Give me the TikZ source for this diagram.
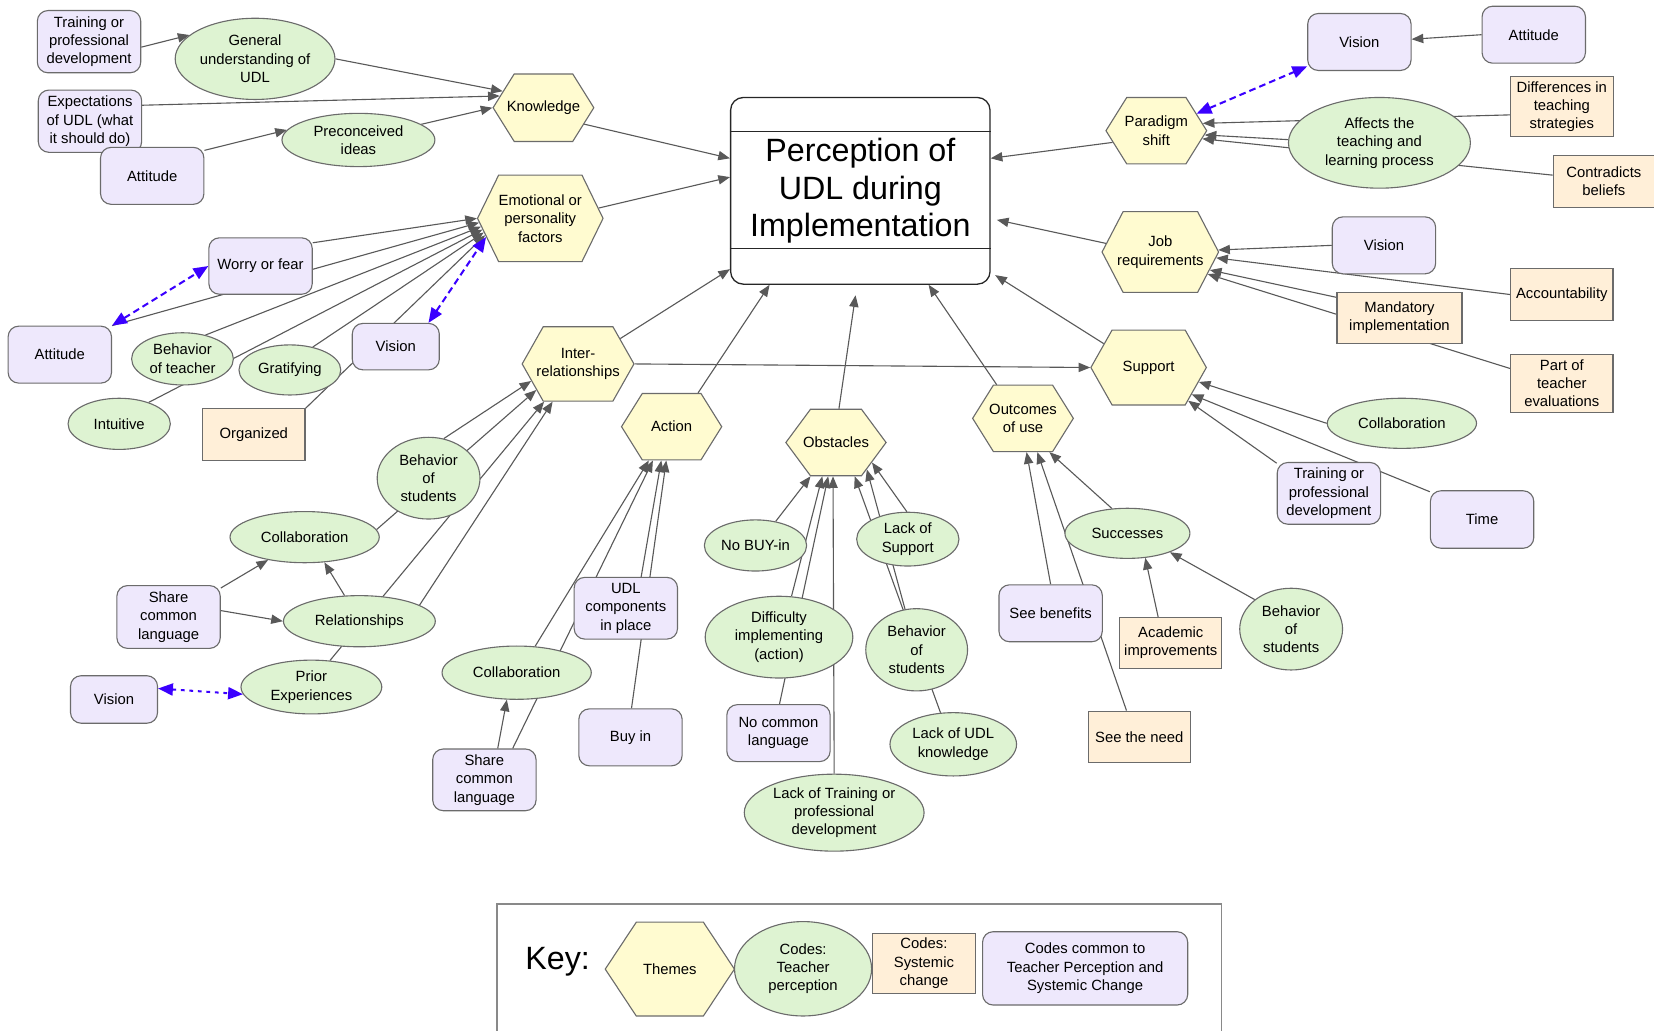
\documentclass[tikz,border=0pt]{standalone}
\usepackage{fontspec}
\setmainfont{Liberation Sans}
\usepackage{tikz}
\usetikzlibrary{shapes.geometric, shapes.symbols, arrows.meta, backgrounds}
\definecolor{themefill}{HTML}{FFFBD0}
\definecolor{teacherfill}{HTML}{DEF3D2}
\definecolor{systemfill}{HTML}{FFEFD8}
\definecolor{commonfill}{HTML}{EEE8FC}
\definecolor{outline}{HTML}{6B6B6B}
\definecolor{linkgray}{HTML}{595959}
\definecolor{linkblue}{HTML}{3A00FF}

\begin{document}
\begin{tikzpicture}[x=0.02cm, y=-0.02cm,
    every node/.style={font=\fontsize{8}{9.9}\selectfont, align=center},
    theme/.style={signal, signal to=east and west, signal pointer angle=#1, draw=outline, fill=themefill, line width=0.6pt, inner xsep=-0.6cm, inner ysep=1pt},
    theme/.default=116,
    teacher/.style={ellipse, draw=outline, fill=teacherfill, line width=0.6pt, inner sep=0pt, minimum width=1.94cm, minimum height=0.97cm},
    system/.style={rectangle, draw=outline, fill=systemfill, line width=0.6pt, inner sep=1pt, minimum width=1.94cm, minimum height=0.97cm},
    common/.style={rectangle, rounded corners=0.2cm, draw=outline, fill=commonfill, line width=0.6pt, inner sep=1pt, minimum width=1.96cm, minimum height=1.08cm},
    link/.style={draw=linkgray, line width=0.6pt, -{Triangle[length=6.3pt, width=5pt]}},
    pairlink/.style={draw=linkblue, line width=1.1pt, dash pattern=on 3.6pt off 2.2pt, {Triangle[length=8pt, width=6.5pt]}-{Triangle[length=8pt, width=6.5pt]}}]
  \useasboundingbox (0,0) rectangle (1568,977);

  % Central concept
  \node[draw=black!85, fill=white, rounded corners=0.24cm, line width=0.7pt, minimum width=4.92cm, minimum height=3.54cm, font=\fontsize{17.4}{20.3}\selectfont] (udl) at (815.6,180.9) {Perception of\\UDL during\\Implementation};
  \draw[black!85, line width=0.7pt] (udl.west |- 0,124.8) -- (udl.east |- 0,124.8);
  \draw[black!85, line width=0.7pt] (udl.west |- 0,235.4) -- (udl.east |- 0,235.4);

  % Knowledge
  \node[common, minimum height=1.18cm] (tpd1) at (84.4,39.5) {Training or\\professional\\development};
  \node[teacher, minimum width=3.03cm, minimum height=1.54cm] (gen) at (241.8,55.8) {General\\understanding of\\UDL};
  \node[common, minimum height=1.18cm] (expect) at (85.3,114.9) {Expectations\\of UDL (what\\it should do)};
  \node[common] (att1) at (144.3,166.7) {Attitude};
  \node[teacher, minimum width=2.9cm, minimum height=1.01cm] (precon) at (339.8,132.7) {Preconceived\\ideas};
  \node[theme, minimum width=1.91cm, minimum height=1.28cm] (know) at (515.2,102.1) {Knowledge};

  % Emotional or personality factors
  \node[theme=128, minimum width=2.38cm, minimum height=1.64cm] (emo) at (512.2,207) {Emotional or\\personality\\factors};
  \node[common, minimum height=1.07cm] (worry) at (247,252.2) {Worry or fear};
  \node[common] (att2) at (56.7,336.2) {Attitude};
  \node[teacher, minimum width=1.93cm, minimum height=0.99cm] (behT) at (173,340.2) {Behavior\\of teacher};
  \node[teacher, minimum width=1.93cm, minimum height=0.95cm] (grat) at (274.8,350.7) {Gratifying};
  \node[common, minimum width=1.65cm, minimum height=0.88cm] (vis1) at (375.2,328.6) {Vision};
  \node[teacher] (intu) at (113,401.8) {Intuitive};
  \node[system] (org) at (240.6,411.9) {Organized};

  % Inter-relationships
  \node[theme=121, minimum width=2.12cm, minimum height=1.41cm] (inter) at (548,345) {Inter-\\relationships};
  \node[teacher, minimum width=1.95cm, minimum height=1.55cm] (behS1) at (406.3,453.3) {Behavior\\of\\students};
  \node[teacher, minimum width=2.83cm] (collab1) at (288.8,509.2) {Collaboration};
  \node[common, minimum height=1.19cm] (scl1) at (159.8,584.9) {Share\\common\\language};
  \node[teacher, minimum width=2.88cm] (rel) at (340.7,588.9) {Relationships};
  \node[teacher, minimum width=2.67cm, minimum height=1.02cm] (prior) at (295.2,651.3) {Prior\\Experiences};
  \node[common, minimum width=1.65cm, minimum height=0.9cm] (vis2) at (108.1,663.1) {Vision};

  % Action
  \node[theme, minimum width=1.9cm, minimum height=1.26cm] (action) at (636.7,404.5) {Action};
  \node[common, minimum height=1.17cm] (udlc) at (593.3,576.6) {UDL\\components\\in place};
  \node[teacher, minimum width=2.83cm, minimum height=1.01cm] (collab2) at (489.8,637.7) {Collaboration};
  \node[common] (buyin) at (597.7,699) {Buy in};
  \node[common, minimum height=1.17cm] (scl2) at (459.2,739.3) {Share\\common\\language};

  % Obstacles
  \node[theme=107, minimum width=1.9cm, minimum height=1.26cm] (obst) at (792.5,419.5) {Obstacles};
  \node[teacher] (nobuy) at (716.2,517.1) {No BUY-in};
  \node[teacher, minimum height=1.02cm] (lacksup) at (860.6,511.1) {Lack of\\Support};
  \node[teacher, minimum width=2.8cm, minimum height=1.55cm] (diff) at (738.5,604) {Difficulty\\implementing\\(action)};
  \node[teacher, minimum width=1.93cm, minimum height=1.56cm] (behS2) at (869,616) {Behavior\\of\\students};
  \node[common] (nocl) at (738,695) {No common\\language};
  \node[teacher, minimum width=2.4cm, minimum height=1.2cm] (lackudl) at (903.7,705.6) {Lack of UDL\\knowledge};
  \node[teacher, minimum width=3.41cm, minimum height=1.46cm] (lacktr) at (790.8,770.4) {Lack of Training or\\professional\\development};

  % Outcomes of use
  \node[theme, minimum width=1.91cm, minimum height=1.26cm] (outc) at (969.8,396.6) {Outcomes\\of use};
  \node[teacher, minimum width=2.37cm, minimum height=0.95cm] (succ) at (1068.8,505.6) {Successes};
  \node[common] (seeben) at (996,581.4) {See benefits};
  \node[system, minimum width=1.93cm, minimum height=0.96cm] (acad) at (1109.9,609.5) {Academic\\improvements};
  \node[teacher, minimum width=1.95cm, minimum height=1.55cm] (behS3) at (1224,596.4) {Behavior\\of\\students};
  \node[system] (seeneed) at (1080,698.4) {See the need};

  % Paradigm shift
  \node[theme, minimum width=1.91cm, minimum height=1.26cm] (paradigm) at (1096.2,123.9) {Paradigm\\shift};
  \node[common] (visR1) at (1288.7,39.8) {Vision};
  \node[common] (attR) at (1454,32.9) {Attitude};
  \node[teacher, minimum width=3.45cm, minimum height=1.72cm] (affects) at (1307.7,135.4) {Affects the\\teaching and\\learning process};
  \node[system, minimum width=1.95cm, minimum height=1.14cm] (diffteach) at (1480.6,101.1) {Differences in\\teaching\\strategies};
  \node[system, minimum width=1.92cm, minimum height=0.98cm] (contra) at (1520.5,172) {Contradicts\\beliefs};

  % Job requirements
  \node[theme=125, minimum width=2.21cm, minimum height=1.53cm] (job) at (1100,238.9) {Job\\requirements};
  \node[common] (visR2) at (1312,232.6) {Vision};
  \node[system] (account) at (1480.6,279.2) {Accountability};
  \node[system, minimum width=2.37cm] (mand) at (1326.7,301.3) {Mandatory\\implementation};
  \node[system, minimum height=1.11cm] (partof) at (1480.6,363.4) {Part of\\teacher\\evaluations};

  % Support
  \node[theme=121, minimum width=2.19cm, minimum height=1.42cm] (support) at (1088.9,348.4) {Support};
  \node[teacher, minimum width=2.83cm, minimum height=0.95cm] (collabR) at (1329,401.3) {Collaboration};
  \node[common, minimum height=1.17cm] (tpdR) at (1259.8,467.7) {Training or\\professional\\development};
  \node[common, minimum height=1.09cm] (time) at (1405,492.5) {Time};

  % Key
  \draw[outline!80, line width=0.6pt] (471.1,985) |- (1158.2,857) -- (1158.2,985);
  \node[font=\fontsize{17.4}{20.3}\selectfont] (keytitle) at (528.6,911.6) {Key:};
  \node[theme=113, minimum width=2.45cm, minimum height=1.78cm] (keytheme) at (635,918.7) {Themes};
  \node[teacher, minimum width=2.6cm, minimum height=1.79cm] (keyteacher) at (761.3,918.4) {Codes:\\Teacher\\perception};
  \node[system, minimum width=1.95cm, minimum height=1.14cm] (keysystem) at (875.9,913.2) {Codes:\\Systemic\\change};
  \node[common, minimum width=3.89cm, minimum height=1.39cm] (keycommon) at (1028.7,918) {Codes common to\\Teacher Perception and\\Systemic Change};

  % Connections
  \begin{scope}[on background layer]
    \draw[link] (know.338) -- (udl.166);
    \draw[link] (emo.10) -- (udl.174);
    \draw[link] (inter.31) -- (udl.211);
    \draw[link] (action.52) -- (udl.226);
    \draw[link, shorten >=0.2cm] (obst.85) -- (udl.268);
    \draw[link] (outc.128) -- (udl.306);
    \draw[link, shorten >=0.1cm] (support.152) -- (udl.328);
    \draw[link, shorten >=0.12cm] (job.171) -- (udl.348);
    \draw[link] (paradigm.195) -- (udl.14);

    \draw[link] (tpd1.354) -- (gen.160);
    \draw[link] (gen.east) -- (know.158);
    \draw[link] (expect.17) -- (know.165);
    \draw[link] (att1.26) -- (precon.172);
    \draw[link] (precon.14) -- (know.west);

    \draw[link] (worry.24) -- (emo.180);
    \draw[link] (att2.north east) -- (emo.184);
    \draw[link] (behT.46) -- (emo.188);
    \draw[link] (intu.36) -- (emo.191);
    \draw[link] (grat.45) -- (emo.194);
    \draw[link] (org.north east) -- (emo.197);
    \draw[pairlink] (vis1.36) -- (emo.199);
    \draw[pairlink] (att2.north east) -- (worry.west);

    \draw[link] (inter.east) -- (support.west);
    \draw[link] (behS1.69) -- (inter.200);
    \draw[link] (collab1.6) -- (inter.212);
    \draw[link] (prior.55) -- (inter.228);
    \draw[link] (rel.15) -- (inter.236);
    \draw[link] (scl1.29) -- (collab1.212);
    \draw[link] (scl1.7) -- (rel.west);
    \draw[link] (rel.120) -- (collab1.308);
    \draw[pairlink, dash pattern=on 2pt off 2.6pt] (vis2.14) -- (prior.186);

    \draw[link] (collab2.55) -- (action.236);
    \draw[link] (scl2.48) -- (action.241);
    \draw[link] (udlc.64) -- (action.253);
    \draw[link] (buyin.88) -- (action.261);
    \draw[link] (scl2.67) -- (collab2.250);

    \draw[link] (nobuy.50) -- (obst.233);
    \draw[link] (diff.73) -- (obst.248);
    \draw[link] (nocl.88) -- (obst.257);
    \draw[link] (lacktr.north) -- (obst.265);
    \draw[link] (lackudl.112) -- (obst.299);
    \draw[link] (behS2.106) -- (obst.319);
    \draw[link] (lacksup.92) -- (obst.331);

    \draw[link] (seeben.north) -- (outc.276);
    \draw[link] (seeneed.116) -- (outc.293);
    \draw[link] (succ.122) -- (outc.308);
    \draw[link] (acad.116) -- (succ.306);
    \draw[link] (behS3.141) -- (succ.336);

    \draw[pairlink] (paradigm.23) -- (visR1.205);
    \draw[link] (attR.west) -- (visR1.3);
    \draw[link] (diffteach.189) -- (paradigm.9);
    \draw[link] (affects.178) -- (paradigm.355);
    \draw[link] (contra.173) -- (paradigm.350);

    \draw[link] (visR2.west) -- (job.2);
    \draw[link] (account.west) -- (job.354);
    \draw[link] (mand.162) -- (job.340);
    \draw[link] (partof.164) -- (job.335);

    \draw[link] (collabR.west) -- (support.344);
    \draw[link] (tpdR.150) -- (support.320);
    \draw[link] (time.152) -- (support.328);
  \end{scope}
\end{tikzpicture}
\end{document}
